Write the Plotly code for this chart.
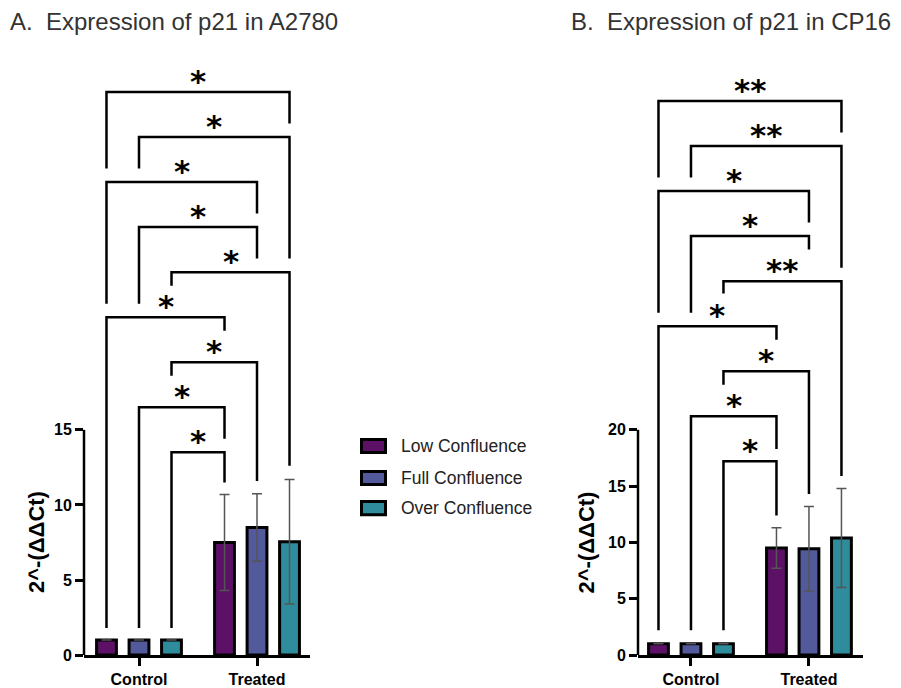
import plotly.graph_objects as go

# ---------------- data ----------------
categories = ["Control", "Treated"]
series = ["Low Confluence", "Full Confluence", "Over Confluence"]
colors = ["#5c1166", "#535a9b", "#2f8c9c"]

a2780_low = [1.0, 7.5]
a2780_full = [1.0, 8.5]
a2780_over = [1.0, 7.55]
a2780_low_err = [0, 3.2]
a2780_full_err = [0, 2.25]
a2780_over_err = [0, 4.15]

cp16_low = [1.0, 9.5]
cp16_full = [1.0, 9.45]
cp16_over = [1.0, 10.4]
cp16_low_err = [0, 1.8]
cp16_full_err = [0, 3.75]
cp16_over_err = [0, 4.4]

# comparisons between bars (index = category*3 + series)
pairs = [(0, 5), (1, 5), (0, 4), (1, 4), (2, 5), (0, 3), (2, 4), (1, 3), (2, 3)]
a2780_sig = ["*", "*", "*", "*", "*", "*", "*", "*", "*"]
cp16_sig = ["**", "**", "*", "*", "**", "*", "*", "*", "*"]
a2780_bracket_y = [37.5, 34.5, 31.5, 28.5, 25.5, 22.5, 19.5, 16.5, 13.5]
a2780_leg_left = [32.4, 32.4, 23.4, 23.4, 24.6, 1.8, 18.6, 1.8, 1.8]
a2780_leg_right = [35.4, 26.4, 29.4, 26.4, 12.6, 21.6, 11.6, 14.4, 11.5]
cp16_bracket_y = [49.2, 45.2, 41.2, 37.2, 33.2, 29.2, 25.2, 21.2, 17.2]
cp16_leg_left = [42.4, 42.4, 30.4, 30.4, 32.1, 2.2, 24.0, 2.2, 2.2]
cp16_leg_right = [46.4, 34.4, 38.4, 36.0, 15.9, 28.0, 14.3, 18.3, 12.4]

a2780_ticks = [0, 5, 10, 15]
cp16_ticks = [0, 5, 10, 15, 20]

# ---------------- layout constants ----------------
W, H = 901, 688
K = 1.0145            # vertical compensation for the capture
OFF = 0.2754
BW = 0.168
FONT = "Liberation Sans, Arial, sans-serif"
Y0PX, YTOPPX = 654.3, 40.0   # pixel rows of the value 0 and of the plot top


def bar_x(cat, s):
    return cat + (s - 1) * OFF


def py(y):
    return 1 - (y * K) / H


fig = go.Figure()

panels = [
    dict(xa="x", ya="y",
         vals=[a2780_low, a2780_full, a2780_over],
         errs=[a2780_low_err, a2780_full_err, a2780_over_err],
         sig=a2780_sig, by=a2780_bracket_y, ll=a2780_leg_left, lr=a2780_leg_right,
         ticks=a2780_ticks),
    dict(xa="x2", ya="y2",
         vals=[cp16_low, cp16_full, cp16_over],
         errs=[cp16_low_err, cp16_full_err, cp16_over_err],
         sig=cp16_sig, by=cp16_bracket_y, ll=cp16_leg_left, lr=cp16_leg_right,
         ticks=cp16_ticks),
]

for p_i, p in enumerate(panels):
    for s in range(3):
        fig.add_trace(go.Bar(
            x=[bar_x(c, s) for c in range(len(categories))],
            y=p["vals"][s],
            width=BW,
            name=series[s],
            legendgroup=series[s],
            showlegend=False,
            marker=dict(color=colors[s], line=dict(color="black", width=3)),
            error_y=dict(type="data", array=p["errs"][s], color="#555555",
                         thickness=1.5, width=5),
            xaxis=p["xa"], yaxis=p["ya"],
        ))
    # significance brackets
    for k, (a, b) in enumerate(pairs):
        xa_ = bar_x(a // 3, a % 3)
        xb_ = bar_x(b // 3, b % 3)
        h = p["by"][k]
        fig.add_shape(type="path",
                      path=f"M {xa_},{p['ll'][k]} L {xa_},{h} L {xb_},{h} L {xb_},{p['lr'][k]}",
                      xref=p["xa"], yref=p["ya"],
                      line=dict(color="black", width=2.5))
        fig.add_annotation(x=(xa_ + xb_) / 2, y=h, xref=p["xa"], yref=p["ya"],
                           text=p["sig"][k], showarrow=False, yanchor="bottom",
                           yshift=-9,
                           font=dict(family="DejaVu Sans", size=31, color="black",
                                     weight=700))
    # y axis line only across tick range
    fig.add_shape(type="line", xref=f"{p['xa']} domain", yref=p["ya"],
                  x0=0, x1=0, y0=0, y1=p["ticks"][-1],
                  line=dict(color="black", width=2.5))

axis_common_x = dict(
    tickvals=[0, 1], ticktext=categories, showline=True, linecolor="black",
    linewidth=2.5, ticks="outside", ticklen=8, tickwidth=2.5, tickcolor="black",
    showgrid=False, zeroline=False,
    tickfont=dict(family=FONT, size=16, color="black", weight=700),
)
axis_common_y = dict(
    showline=False, ticks="outside", ticklen=8, tickwidth=2.5, tickcolor="black",
    showgrid=False, zeroline=False,
    tickfont=dict(family=FONT, size=16, color="black", weight=700),
)

ydom = [py(Y0PX), py(YTOPPX)]

fig.update_layout(
    width=W, height=H, autosize=False,
    margin=dict(l=0, r=0, t=0, b=0),
    paper_bgcolor="white", plot_bgcolor="white",
    barmode="overlay",
    font=dict(family=FONT),
    xaxis=dict(domain=[84 / W, 310 / W], range=[-0.466, 1.449], anchor="y", **axis_common_x),
    yaxis=dict(domain=ydom, range=[0, (Y0PX - YTOPPX) / 15], anchor="x",
               tickvals=a2780_ticks, **axis_common_y),
    xaxis2=dict(domain=[638 / W, 863 / W], range=[-0.449, 1.458], anchor="y2", **axis_common_x),
    yaxis2=dict(domain=ydom, range=[0, (Y0PX - YTOPPX) / 11.25], anchor="x2",
                tickvals=cp16_ticks, **axis_common_y),
    showlegend=False,
)

# legend (drawn manually to match the wide swatches)
legend_y = [445.5, 477.5, 507.5]
for s in range(3):
    fig.add_shape(type="rect", xref="paper", yref="paper",
                  x0=361.5 / W, x1=385.5 / W,
                  y0=py(legend_y[s] - 6.5), y1=py(legend_y[s] + 6.5),
                  fillcolor=colors[s], line=dict(color="black", width=3))
    fig.add_annotation(x=399 / W, y=py(legend_y[s]), xref="paper", yref="paper",
                       text=series[s], showarrow=False, xanchor="left", yanchor="middle",
                       font=dict(family=FONT, size=17.5, color="#222222"))

# titles
fig.add_annotation(x=8 / W, y=py(21), xref="paper", yref="paper",
                   text="A.  Expression of p21 in A2780", showarrow=False,
                   xanchor="left", yanchor="middle",
                   font=dict(family=FONT, size=24, color="#333333"))
fig.add_annotation(x=569 / W, y=py(21), xref="paper", yref="paper",
                   text="B.  Expression of p21 in CP16", showarrow=False,
                   xanchor="left", yanchor="middle",
                   font=dict(family=FONT, size=24, color="#333333"))

# y-axis titles
fig.add_annotation(x=36.5 / W, y=7.5, xref="paper", yref="y",
                   text="2^-(ΔΔCt)", showarrow=False, textangle=-90,
                   xanchor="center", yanchor="middle",
                   font=dict(family=FONT, size=22, color="black", weight=700))
fig.add_annotation(x=586 / W, y=10, xref="paper", yref="y2",
                   text="2^-(ΔΔCt)", showarrow=False, textangle=-90,
                   xanchor="center", yanchor="middle",
                   font=dict(family=FONT, size=22, color="black", weight=700))

fig.write_html("out.html",
               config=dict(displayModeBar=False, responsive=False),
               post_script="document.body.style.margin='0';document.body.style.overflow='hidden';")
